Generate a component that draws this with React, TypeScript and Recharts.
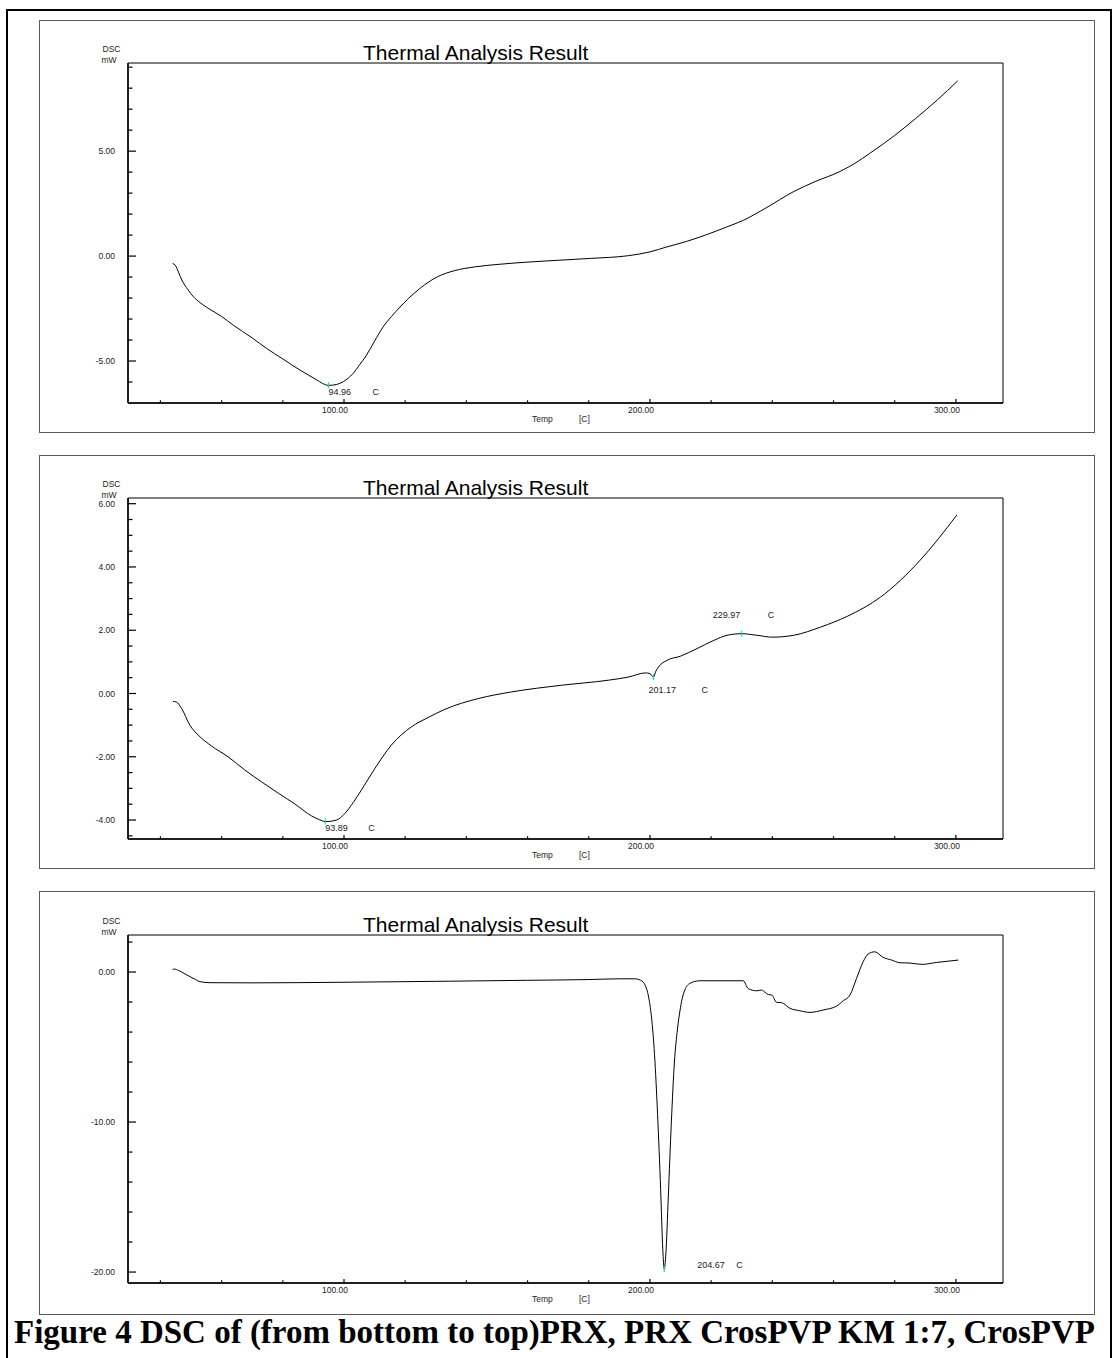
import React from "react";
import { LineChart, Line, XAxis, YAxis, ReferenceArea, ReferenceDot } from "recharts";

// temperature axis (deg C)
const xDomain = [29.4, 315.4];
const xMajor = [100, 200, 300];
const xMinor = [40, 60, 80, 120, 140, 160, 180, 220, 240, 260, 280];

// top panel: CrosPVP
const topTemp = [44.0, 44.8, 46, 47, 49, 50.8, 53, 55.1, 60, 63.8, 70, 74.7, 80, 85.6, 91.1, 93, 94.96, 97.5, 99.8, 103, 105, 107.4, 110, 112.8, 115.5, 118.3, 121, 125, 130.5, 136, 143, 150, 161.8, 170, 180.6, 193, 200, 205.6, 212, 218.1, 225, 230.6, 238, 246.8, 254, 261.8, 267, 271.8, 280, 286.8, 294, 300.6];
const topDsc = [-0.35, -0.43, -0.8, -1.14, -1.6, -1.94, -2.22, -2.44, -2.88, -3.29, -3.9, -4.4, -4.9, -5.43, -5.9, -6.07, -6.16, -6.12, -5.98, -5.59, -5.2, -4.71, -4.05, -3.37, -2.88, -2.43, -2.03, -1.52, -0.99, -0.7, -0.51, -0.4, -0.27, -0.2, -0.11, 0.02, 0.2, 0.44, 0.7, 1.0, 1.38, 1.71, 2.3, 3.06, 3.55, 4.01, 4.42, 4.89, 5.75, 6.55, 7.45, 8.35];
const topYDomain = [-7.0, 9.2];
const topYMajor = [-5, 0, 5];
const topYMinor = [-6, -4, -3, -2, -1, 1, 2, 3, 4, 6, 7, 8, 9];
const topPeakT = [94.96];
const topPeakV = [-6.16];

// middle panel: PRX CrosPVP KM 1:7
const midTemp = [44.1, 45.2, 46.9, 49.6, 52.3, 56.7, 62.1, 67.6, 73, 78.5, 83.9, 89.4, 92, 93.89, 97.6, 100.3, 103, 105.7, 110.1, 115.5, 122.1, 127.5, 133, 143.9, 154.8, 171.1, 186.4, 193, 198.5, 200, 201.17, 201.9, 202.8, 205.6, 210, 215.4, 220.9, 225.2, 229.97, 235, 240, 247, 255.8, 264.5, 275.4, 288.2, 300.3];
const midDsc = [-0.25, -0.27, -0.47, -1.0, -1.31, -1.66, -2.0, -2.42, -2.79, -3.15, -3.49, -3.87, -3.99, -4.05, -4.0, -3.79, -3.45, -3.05, -2.37, -1.63, -1.05, -0.76, -0.5, -0.16, 0.05, 0.26, 0.42, 0.52, 0.65, 0.63, 0.52, 0.7, 0.84, 1.05, 1.18, 1.42, 1.68, 1.84, 1.89, 1.84, 1.78, 1.84, 2.1, 2.44, 3.05, 4.2, 5.64];
const midYDomain = [-4.6, 6.18];
const midYMajor = [-4, -2, 0, 2, 4, 6];
const midYMinor = [-4.5, -3.5, -3, -2.5, -1.5, -1, -0.5, 0.5, 1, 1.5, 2.5, 3, 3.5, 4.5, 5, 5.5];
const midPeakT = [93.89, 201.17, 229.97];
const midPeakV = [-4.05, 0.52, 1.89];

// bottom panel: PRX
const botTemp = [44, 44.5, 46, 48, 49.7, 51.5, 52.9, 56.2, 70, 100, 130, 160, 180, 190, 195, 197, 198.5, 199.5, 200.5, 201.5, 202.5, 203.5, 204.2, 204.67, 205.2, 206, 207, 208, 209, 209.8, 210.5, 211.4, 213, 216.3, 230.5, 232.1, 234.9, 236.5, 237.6, 238.7, 239.8, 241.4, 243, 245.8, 249, 252.3, 256.6, 261, 263.2, 265.4, 267.5, 269.7, 271.3, 273.5, 276.2, 279, 281.7, 285, 288.8, 293.7, 300.8];
const botDsc = [0.18, 0.2, 0.1, -0.12, -0.31, -0.5, -0.64, -0.71, -0.72, -0.68, -0.62, -0.55, -0.5, -0.45, -0.45, -0.55, -0.9, -1.6, -3, -5.5, -9.5, -14.5, -18.5, -19.8, -18.8, -15, -10, -6, -3.8, -2.6, -1.8, -1.2, -0.76, -0.58, -0.58, -1.1, -1.25, -1.2, -1.35, -1.5, -1.53, -2.02, -2.04, -2.42, -2.58, -2.69, -2.53, -2.27, -1.91, -1.53, -0.44, 0.69, 1.2, 1.35, 0.98, 0.8, 0.62, 0.6, 0.51, 0.64, 0.8];
const botYDomain = [-20.73, 2.47];
const botYMajor = [-20, -10, 0];
const botYMinor = [-18, -16, -14, -12, -8, -6, -4, -2, 2];
const botPeakT = [204.67];
const botPeakV = [-19.8];

const FONT = '"Liberation Sans", Arial, sans-serif';
const PLOT_LEFT = 128;
const PLOT_RIGHT = 1003;
const Y_AXIS_W = 60;

const isMajor = (v: number, majors: number[]) => majors.some((m) => Math.abs(m - v) < 1e-6);

function YTick(props: any) {
  const { x, y, payload, majors } = props;
  const major = isMajor(payload.value, majors);
  return (
    <g>
      <line x1={x} x2={x + (major ? 8 : 4.5)} y1={y} y2={y} stroke="#000" strokeWidth={1.2} />
      {major ? (
        <text x={x - 13} y={y + 3.2} textAnchor="end" fontSize={8.5} fontFamily={FONT} fill="#222">
          {Number(payload.value).toFixed(2)}
        </text>
      ) : null}
    </g>
  );
}

function XTick(props: any) {
  const { x, y, payload } = props;
  const major = isMajor(payload.value, xMajor);
  return (
    <g>
      <line x1={x} x2={x} y1={y} y2={y - (major ? 4 : 2.7)} stroke="#000" strokeWidth={1.2} />
      {major ? (
        <text x={x + 4} y={y + 10} textAnchor="end" fontSize={8.5} fontFamily={FONT} fill="#222">
          {Number(payload.value).toFixed(2)}
        </text>
      ) : null}
    </g>
  );
}

type LabelPos = { dx: number; dy: number; cdx: number };

function PeakMark(props: any) {
  const { cx, cy, text, pos } = props as { cx: number; cy: number; text: string; pos: LabelPos };
  return (
    <g>
      <line x1={cx} x2={cx} y1={cy - 3} y2={cy + 3} stroke="#19d6d6" strokeWidth={1.2} />
      <text x={cx + pos.dx} y={cy + pos.dy} fontSize={9} fontFamily={FONT} fill="#222">
        {text}
      </text>
      <text x={cx + pos.cdx} y={cy + pos.dy} fontSize={9} fontFamily={FONT} fill="#222">
        C
      </text>
    </g>
  );
}

type PanelProps = {
  boxTop: number;
  plotTop: number;
  plotBottom: number;
  boxBottom: number;
  temps: number[];
  values: number[];
  yDomain: number[];
  yMajor: number[];
  yMinor: number[];
  peakT: number[];
  peakV: number[];
  labelPos: LabelPos[];
};

function Panel(p: PanelProps) {
  const data = p.temps.map((t, i) => ({ t, v: p.values[i] }));
  const yTicks = [...p.yMinor, ...p.yMajor].sort((a, b) => a - b);
  const xTicks = [...xMinor, ...xMajor].sort((a, b) => a - b);
  const h = p.boxBottom - p.boxTop;
  return (
    <>
      <div
        style={{
          position: "absolute",
          left: 39,
          top: p.boxTop,
          width: 1095 - 39,
          height: h,
          border: "1px solid #5a5a5a",
          boxSizing: "border-box",
        }}
      />
      <div style={{ position: "absolute", left: 0, top: p.boxTop }}>
        <LineChart
          width={1114}
          height={h}
          data={data}
          margin={{
            top: p.plotTop - p.boxTop,
            left: PLOT_LEFT - Y_AXIS_W,
            right: 1114 - PLOT_RIGHT,
            bottom: p.boxBottom - p.plotBottom - 20,
          }}
        >
          <XAxis
            dataKey="t"
            type="number"
            domain={xDomain}
            allowDataOverflow
            ticks={xTicks}
            interval={0}
            tickSize={0}
            tickMargin={0}
            height={20}
            axisLine={{ stroke: "#000", strokeWidth: 1.5 }}
            tick={(tp: any) => <XTick {...tp} />}
          />
          <YAxis
            type="number"
            domain={p.yDomain}
            allowDataOverflow
            ticks={yTicks}
            interval={0}
            tickSize={0}
            tickMargin={0}
            width={Y_AXIS_W}
            axisLine={{ stroke: "#000", strokeWidth: 1.5 }}
            tick={(tp: any) => <YTick {...tp} majors={p.yMajor} />}
          />
          <ReferenceArea
            x1={xDomain[0]}
            x2={xDomain[1]}
            y1={p.yDomain[0]}
            y2={p.yDomain[1]}
            fill="none"
            fillOpacity={0}
            stroke="#000"
            strokeWidth={1}
            strokeOpacity={1}
          />
          <Line
            dataKey="v"
            type="monotone"
            stroke="#000"
            strokeWidth={1}
            dot={false}
            isAnimationActive={false}
          />
          {p.peakT.map((t, i) => (
            <ReferenceDot
              key={t}
              x={t}
              y={p.peakV[i]}
              r={0}
              shape={(sp: any) => <PeakMark {...sp} text={t.toFixed(2)} pos={p.labelPos[i]} />}
            />
          ))}
        </LineChart>
      </div>
      <svg
        width={1114}
        height={h + 20}
        style={{ position: "absolute", left: 0, top: p.boxTop, pointerEvents: "none" }}
      >
        <text x={363} y={p.plotTop - p.boxTop - 3} fontSize={21} fontFamily={FONT} fill="#000">
          Thermal Analysis Result
        </text>
        <text x={102.5} y={p.plotTop - p.boxTop - 11} fontSize={8.5} fontFamily={FONT} fill="#222">
          DSC
        </text>
        <text x={101.5} y={p.plotTop - p.boxTop - 0.5} fontSize={8.5} fontFamily={FONT} fill="#222">
          mW
        </text>
        <text x={532} y={p.plotBottom - p.boxTop + 18.5} fontSize={8.5} fontFamily={FONT} fill="#222">
          Temp
        </text>
        <text x={579} y={p.plotBottom - p.boxTop + 18.5} fontSize={8.5} fontFamily={FONT} fill="#222">
          [C]
        </text>
      </svg>
    </>
  );
}

export default function App() {
  return (
    <div
      style={{
        position: "absolute",
        left: 0,
        top: 0,
        width: 1114,
        height: 1358,
        overflow: "hidden",
        background: "#fff",
      }}
    >
      <div
        style={{
          position: "absolute",
          left: 6,
          top: 9,
          width: 1106,
          height: 1420,
          border: "2px solid #000",
          boxSizing: "border-box",
        }}
      />
      <Panel
        boxTop={20}
        plotTop={63}
        plotBottom={403}
        boxBottom={433}
        temps={topTemp}
        values={topDsc}
        yDomain={topYDomain}
        yMajor={topYMajor}
        yMinor={topYMinor}
        peakT={topPeakT}
        peakV={topPeakV}
        labelPos={[{ dx: 0, dy: 10, cdx: 44 }]}
      />
      <Panel
        boxTop={455}
        plotTop={498}
        plotBottom={839}
        boxBottom={869}
        temps={midTemp}
        values={midDsc}
        yDomain={midYDomain}
        yMajor={midYMajor}
        yMinor={midYMinor}
        peakT={midPeakT}
        peakV={midPeakV}
        labelPos={[
          { dx: 0, dy: 9.5, cdx: 43 },
          { dx: -5, dy: 16, cdx: 48 },
          { dx: -29, dy: -16, cdx: 26 },
        ]}
      />
      <Panel
        boxTop={891}
        plotTop={935}
        plotBottom={1283}
        boxBottom={1315}
        temps={botTemp}
        values={botDsc}
        yDomain={botYDomain}
        yMajor={botYMajor}
        yMinor={botYMinor}
        peakT={botPeakT}
        peakV={botPeakV}
        labelPos={[{ dx: 33, dy: -1, cdx: 72 }]}
      />
      <div
        style={{
          position: "absolute",
          left: 14,
          top: 1315,
          fontFamily: '"Liberation Serif", "Times New Roman", serif',
          fontWeight: "bold",
          fontSize: 33,
          lineHeight: "34px",
          whiteSpace: "nowrap",
          color: "#000",
        }}
      >
        Figure 4 DSC of (from bottom to top)PRX, PRX CrosPVP KM 1:7, CrosPVP
      </div>
    </div>
  );
}
